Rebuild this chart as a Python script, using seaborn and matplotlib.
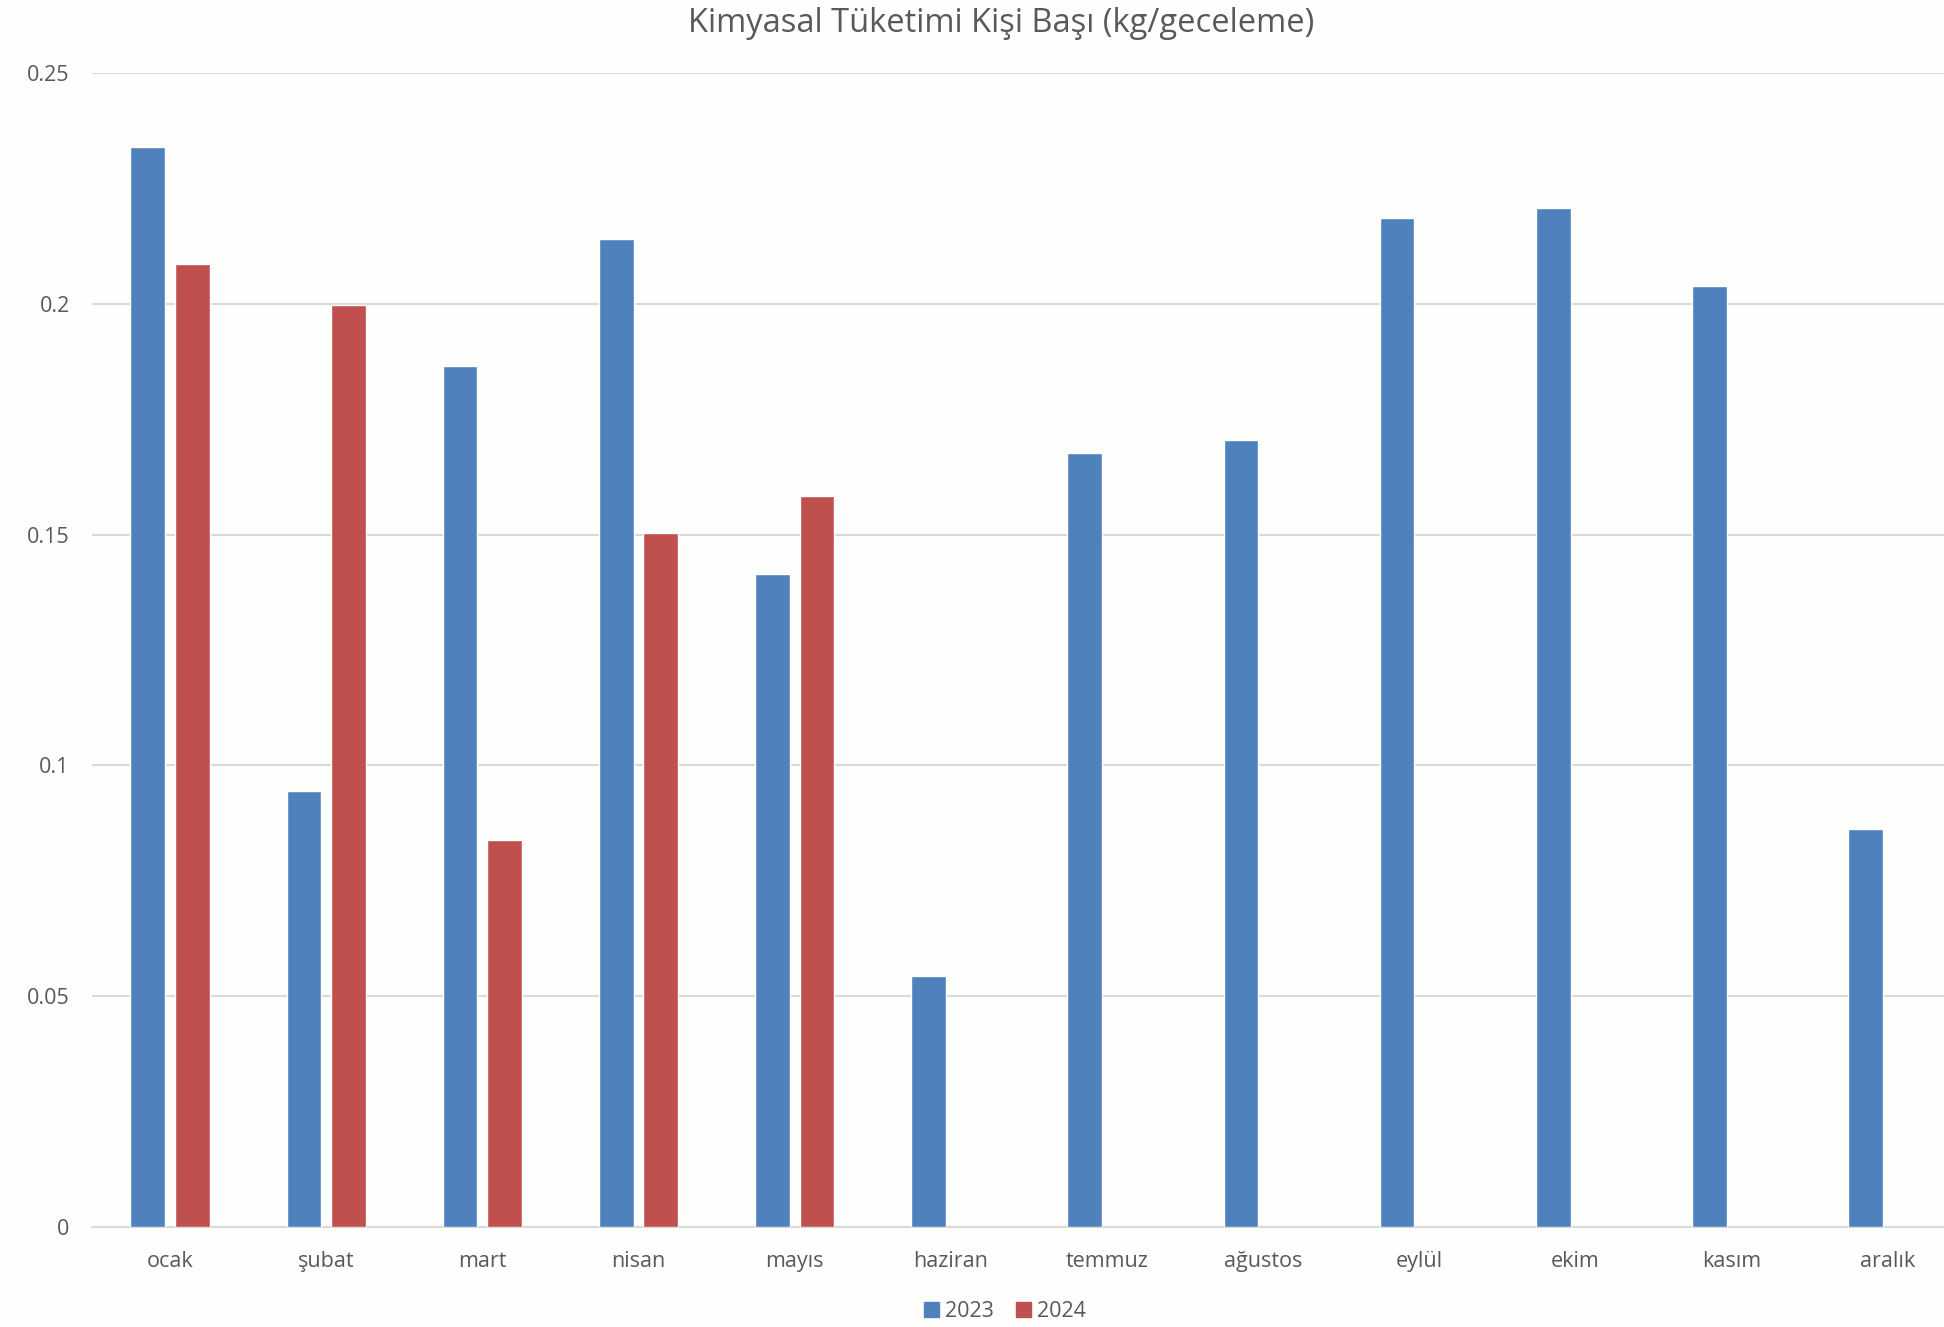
import pandas as pd
import seaborn as sns
import matplotlib.pyplot as plt
from matplotlib.patches import Patch

# data
months = ['ocak', 'şubat', 'mart', 'nisan', 'mayıs', 'haziran',
          'temmuz', 'ağustos', 'eylül', 'ekim', 'kasım', 'aralık']
values_2023 = [0.234, 0.0944, 0.1866, 0.214, 0.1414, 0.0543,
               0.1677, 0.1704, 0.2185, 0.2207, 0.2038, 0.0863]
values_2024 = [0.2086, 0.1997, 0.0839, 0.1503, 0.1583, None,
               None, None, None, None, None, None]
years = ['2023', '2024']
colors = ['#4f81bd', '#c0504d']

rows = []
for m, a, b in zip(months, values_2023, values_2024):
    rows.append({'ay': m, 'yil': '2023', 'deger': a})
    if b is not None:
        rows.append({'ay': m, 'yil': '2024', 'deger': b})
df = pd.DataFrame(rows)

sns.set_theme(style="white")
plt.rcParams['font.family'] = ['Open Sans', 'DejaVu Sans']

fig = plt.figure(figsize=(19.44, 13.27), dpi=100, facecolor='#fefefd')
ax = fig.add_axes([0.0473, 0.0754, 0.9527, 0.8696])
ax.set_facecolor('#fefefd')

sns.barplot(data=df, x='ay', y='deger', hue='yil', order=months, hue_order=years,
            palette=colors, saturation=1, width=0.57, gap=0.22,
            errorbar=None, legend=False, ax=ax, zorder=3)

ax.set_ylim(0, 0.25)
ax.set_xlim(-0.5, 11.36)
ax.set_yticks([0, 0.05, 0.1, 0.15, 0.2, 0.25])
ax.set_yticklabels(['0', '0.05', '0.1', '0.15', '0.2', '0.25'])
ax.yaxis.grid(True, color='#d9d9d9', linewidth=1.5, zorder=0)
for s in ['top', 'right', 'left']:
    ax.spines[s].set_visible(False)
ax.spines['bottom'].set_color('#d9d9d9')
ax.spines['bottom'].set_linewidth(1.5)
ax.tick_params(axis='both', length=0, labelsize=15.5, labelcolor='#595959')
ax.tick_params(axis='y', pad=16)
ax.tick_params(axis='x', pad=17)
ax.set_xlabel('')
ax.set_ylabel('')

fig.text(0.515, 0.995, 'Kimyasal Tüketimi Kişi Başı (kg/geceleme)', ha='center', va='top',
         fontsize=23.5, color='#595959')

handles = [Patch(color=c, label=y) for c, y in zip(colors, years)]
fig.legend(handles=handles, loc='center', bbox_to_anchor=(0.517, 0.0115), ncol=2,
           frameon=False, fontsize=15.5, labelcolor='#595959', handlelength=0.7,
           handleheight=0.7, handletextpad=0.3, columnspacing=1.0)

fig.savefig('out.png', dpi=100, facecolor=fig.get_facecolor())
